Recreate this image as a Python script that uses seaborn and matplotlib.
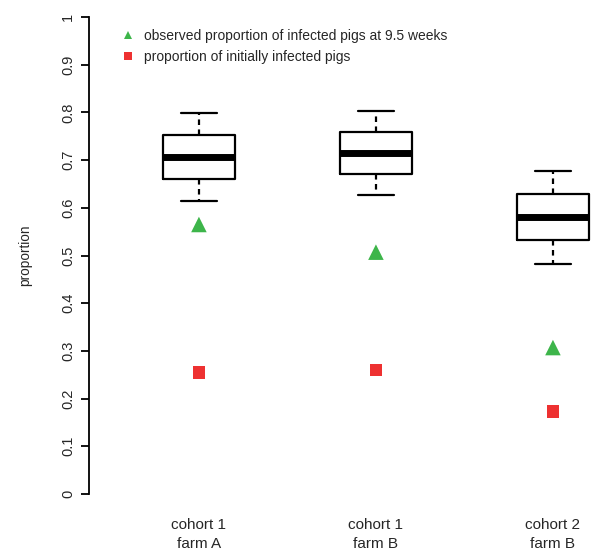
import numpy as np
import pandas as pd
import matplotlib
matplotlib.use("Agg")
import matplotlib.pyplot as plt
import seaborn as sns
from matplotlib.lines import Line2D

groups = ["cohort 1\nfarm A", "cohort 1\nfarm B", "cohort 2\nfarm B"]

# five-number summaries (low whisker, Q1, median, Q3, high whisker)
lower = [0.614, 0.627, 0.483]
q1 = [0.660, 0.670, 0.532]
median = [0.707, 0.715, 0.581]
q3 = [0.753, 0.758, 0.629]
upper = [0.798, 0.802, 0.677]

observed = [0.565, 0.507, 0.307]
initial = [0.254, 0.260, 0.173]

green = "#3DB54A"
red = "#EE3131"

# long table: five values per group give exactly these quartiles
rows = []
for g, a, b, c, d, e in zip(groups, lower, q1, median, q3, upper):
    for v in (a, b, c, d, e):
        rows.append({"group": g, "proportion": v})
df = pd.DataFrame(rows)

sns.set_style("white")
plt.rcParams["font.family"] = ["Liberation Sans", "DejaVu Sans"]

fig = plt.figure(figsize=(5.91, 5.5), dpi=100)
ax = fig.add_axes([89 / 591, 56 / 550, (591 - 89) / 591, 477 / 550])

sns.boxplot(data=df, x="group", y="proportion", ax=ax, width=0.41,
            whis=1.5, fill=False, color="black", linewidth=1.6,
            showfliers=False,
            whiskerprops=dict(linestyle=(0, (2.5, 2.0)), linewidth=1.6),
            capprops=dict(linewidth=1.6),
            medianprops=dict(linewidth=5, color="black"),
            boxprops=dict(linewidth=1.6))

x = np.arange(len(groups))
sns.scatterplot(x=x, y=observed, marker="^", s=125, color=green,
                edgecolor="none", ax=ax, zorder=5, clip_on=False)
sns.scatterplot(x=x, y=initial, marker="s", s=85, color=red,
                edgecolor="none", ax=ax, zorder=5, clip_on=False)

ax.set_xlim(-0.621, 2.215)
ax.set_ylim(0, 1)
ax.set_yticks(np.arange(0, 1.01, 0.1))
ax.set_yticklabels(["0"] + ["%.1f" % v for v in np.arange(0.1, 0.95, 0.1)] + ["1"],
                   rotation=90, va="center", fontsize=10.5)
ax.set_xticks(x)
ax.set_xticklabels(groups, fontsize=11, linespacing=1.45)
ax.tick_params(axis="x", length=0, pad=17.5)
ax.tick_params(axis="y", length=6, width=1.3, color="black", direction="out",
               left=True, pad=4)
ax.set_xlabel("")
ax.set_ylabel("proportion", fontsize=9.8, labelpad=21)

for s in ["top", "right", "bottom"]:
    ax.spines[s].set_visible(False)
ax.spines["left"].set_color("black")
ax.spines["left"].set_linewidth(1.3)

# legend
handles = [Line2D([], [], marker="^", linestyle="none", color=green, markersize=6,
                  markeredgewidth=0),
           Line2D([], [], marker="s", linestyle="none", color=red, markersize=5.5,
                  markeredgewidth=0)]
fig.legend(handles, ["observed proportion of infected pigs at 9.5 weeks",
                     "proportion of initially infected pigs"],
           loc="upper left", bbox_to_anchor=(114 / 591, 1 - 22 / 550),
           frameon=False, fontsize=10, handlelength=1.0, handletextpad=0.65,
           labelspacing=0.5, borderpad=0)

fig.savefig("out.png", dpi=100)
